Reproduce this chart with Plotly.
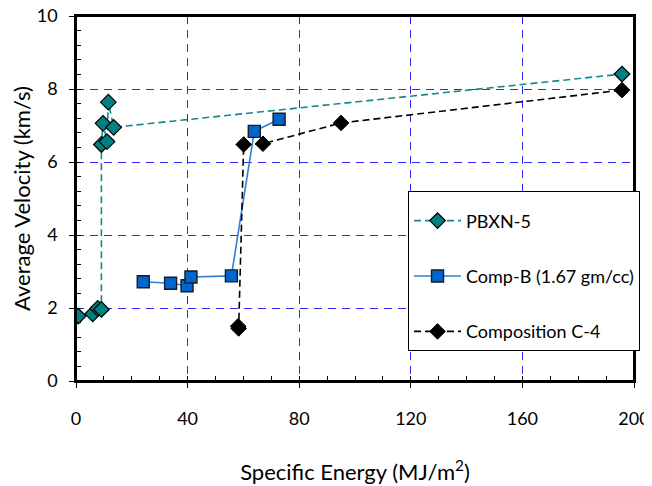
import plotly.graph_objects as go

# PBXN-5
pbxn_x = [0.8, 6.0, 7.8, 9.1, 9.1, 9.7, 11.1, 11.6, 13.5, 195.7]
pbxn_y = [1.78, 1.84, 1.99, 1.96, 6.48, 7.06, 6.56, 7.64, 6.95, 8.41]

# Comp-B (1.67 gm/cc)
compb_x = [24.1, 33.9, 39.8, 41.2, 55.7, 63.9, 72.8]
compb_y = [2.72, 2.68, 2.61, 2.85, 2.88, 6.84, 7.17]

# Composition C-4
c4_x = [58.1, 58.3, 60.1, 67.0, 95.0, 195.7]
c4_y = [1.50, 1.44, 6.48, 6.50, 7.07, 7.97]

x_ticks = [0, 40, 80, 120, 160, 200]
y_ticks = [0, 2, 4, 6, 8, 10]

FONT = "Lato"

fig = go.Figure()

fig.add_trace(go.Scatter(
    x=pbxn_x, y=pbxn_y, mode="lines+markers", name="PBXN-5",
    legendgroup="a",
    line=dict(color="#138a8a", width=1.6, dash="7px,4px"),
    marker=dict(symbol="diamond", size=12, color="#008080",
                line=dict(color="black", width=1.2)),
))
fig.add_trace(go.Scatter(
    x=compb_x, y=compb_y, mode="lines+markers", name="Comp-B (1.67 gm/cc)",
    legendgroup="b",
    line=dict(color="#2f7fd8", width=1.6),
    marker=dict(symbol="square", size=12, color="#0066cc",
                line=dict(color="#1a1a2a", width=1.4)),
))
fig.add_trace(go.Scatter(
    x=c4_x, y=c4_y, mode="lines+markers", name="Composition C-4",
    legendgroup="c",
    line=dict(color="black", width=1.6, dash="7px,4px"),
    marker=dict(symbol="diamond", size=12, color="black",
                line=dict(color="black", width=1)),
))
# invisible trace to activate overlay axes (for inside major ticks)
fig.add_trace(go.Scatter(x=[0], y=[0], xaxis="x2", yaxis="y2", mode="markers",
                         marker=dict(opacity=0), showlegend=False, hoverinfo="skip"))

grid = dict(showgrid=True, gridcolor="#2a2aff", gridwidth=1, griddash="8px,6px")

# page body has an 8px margin, so the figure is drawn 8px smaller and offset
fig.update_layout(
    width=644, height=478,
    margin=dict(l=68, r=18, t=8, b=105),
    paper_bgcolor="white", plot_bgcolor="white",
    font=dict(family=FONT, color="black", size=18),
    showlegend=True,
    legend=dict(x=0.595, y=0.5205, xanchor="left", yanchor="top",
                bordercolor="black", borderwidth=1, bgcolor="white",
                font=dict(family=FONT, size=18), tracegroupgap=29,
                traceorder="grouped", itemwidth=47,
                title=dict(text=" ", font=dict(size=8))),
    xaxis=dict(range=[0, 200], tickvals=x_ticks, ticktext=[str(v) for v in x_ticks],
               showline=True, linecolor="black", linewidth=1.5, mirror=True,
               ticks="outside", ticklen=5, tickwidth=1, tickcolor="black",
               minor=dict(dtick=10, ticks="inside", ticklen=5, tickcolor="black", tickwidth=1, showgrid=False),
               ticklabelstandoff=16, zeroline=False, automargin=False,
               ticklabeloverflow="allow",
               title=dict(text="Specific Energy (MJ/m<sup>2</sup>)", standoff=36,
                          font=dict(family=FONT, size=22)),
               **grid),
    yaxis=dict(range=[0, 10], tickvals=y_ticks, ticktext=[str(v) for v in y_ticks],
               showline=True, linecolor="black", linewidth=1.5, mirror=True,
               ticks="outside", ticklen=5, tickwidth=1, tickcolor="black",
               minor=dict(dtick=0.4, ticks="inside", ticklen=5, tickcolor="black", tickwidth=1, showgrid=False),
               ticklabelstandoff=8, zeroline=False, automargin=False,
               ticklabeloverflow="allow",
               title=dict(text="Average Velocity (km/s)", standoff=4,
                          font=dict(family=FONT, size=22)),
               **grid),
    xaxis2=dict(range=[0, 200], overlaying="x", anchor="y2", tickvals=x_ticks,
                ticks="inside", ticklen=5, tickwidth=1, tickcolor="black",
                showticklabels=False, showgrid=False, showline=False, zeroline=False),
    yaxis2=dict(range=[0, 10], overlaying="y", anchor="x2", tickvals=y_ticks,
                ticks="inside", ticklen=5, tickwidth=1, tickcolor="black",
                showticklabels=False, showgrid=False, showline=False, zeroline=False),
    shapes=[dict(type="rect", xref="paper", yref="paper", x0=0, x1=1, y0=0, y1=1,
                 line=dict(color="black", width=2), layer="above")],
)

fig.write_html("out.html")
